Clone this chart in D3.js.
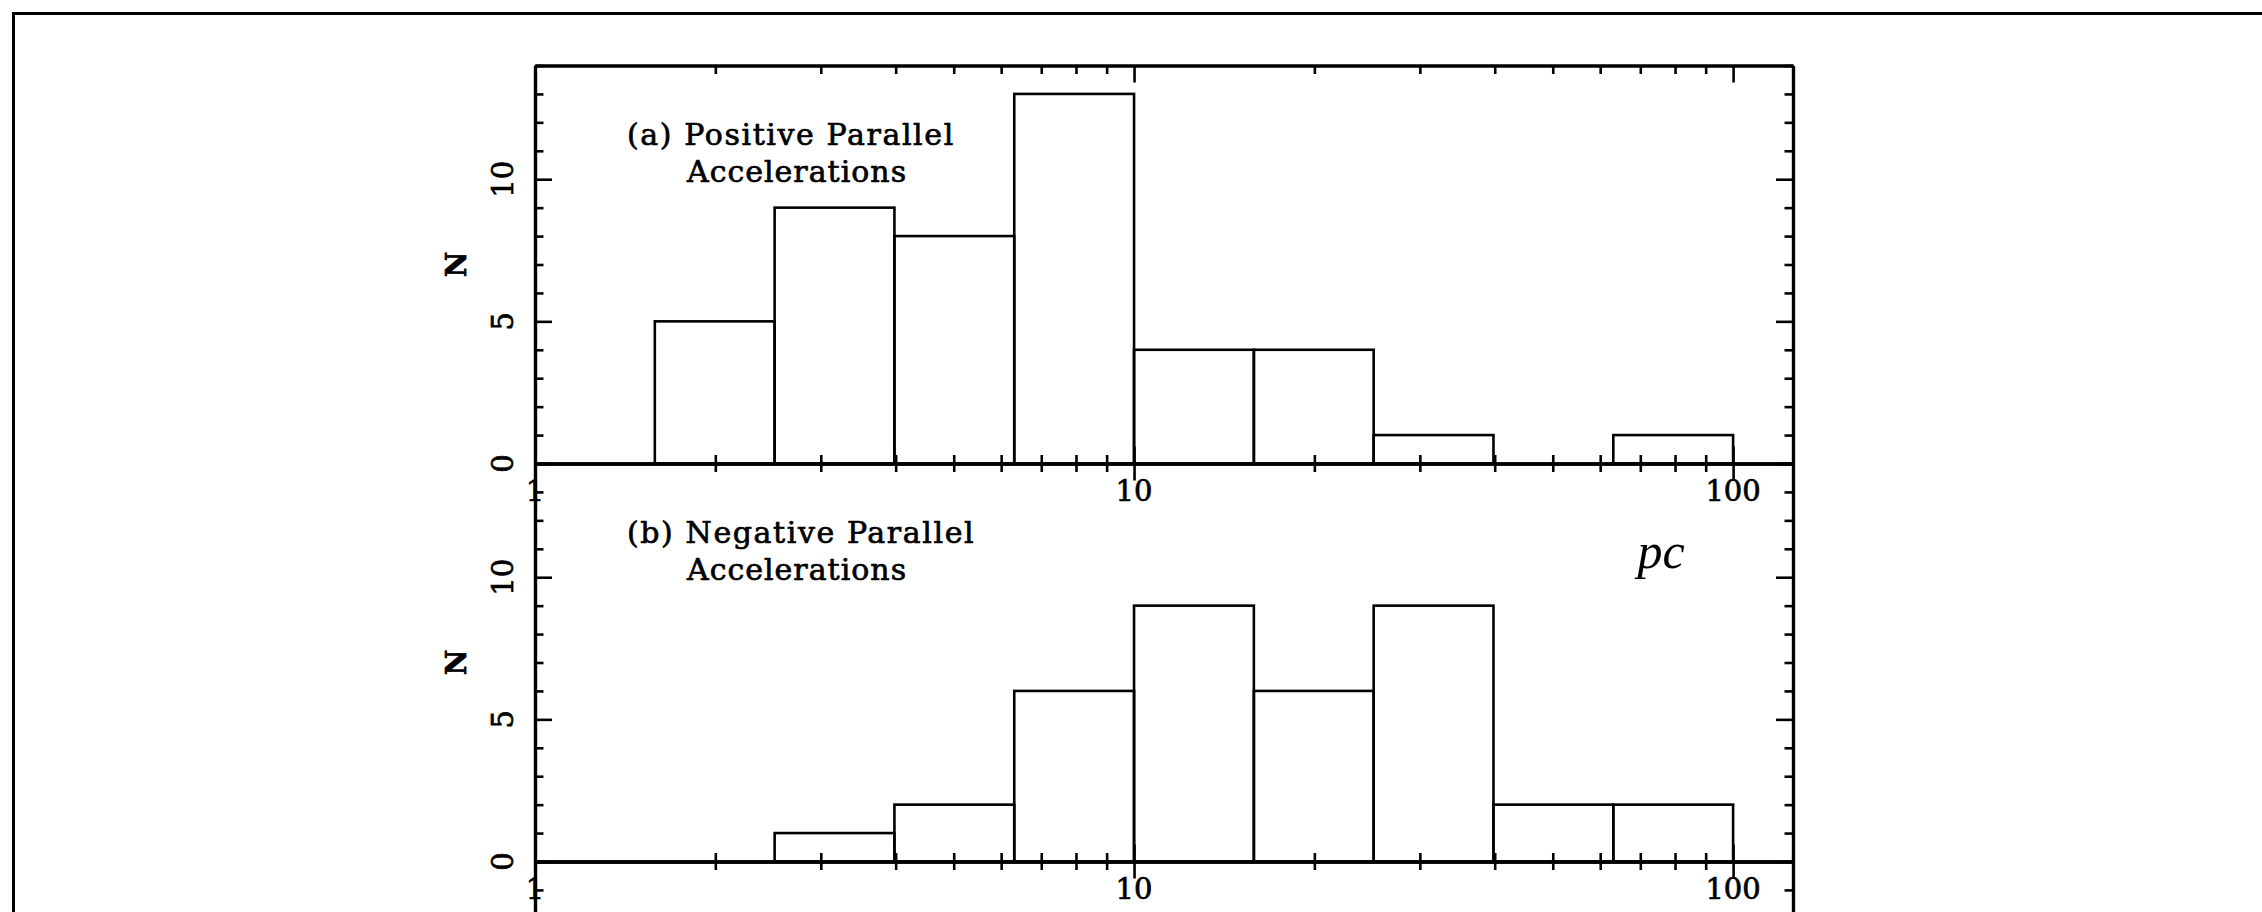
<!DOCTYPE html>
<html>
<head>
<meta charset="utf-8">
<script src="https://cdn.jsdelivr.net/npm/d3@7"></script>
<style>
  body { margin: 0; background: #fff; }
  svg { display: block; }
  .lbl { font-family: "DejaVu Serif", serif; fill: #000; stroke: #000; stroke-width: 0.7px; }
</style>
</head>
<body>
<div id="chart"></div>
<script>
// bin edges (log spaced, 0.2 dex)
const binEdges = [1.585, 2.512, 3.981, 6.310, 10, 15.85, 25.12, 39.81, 63.10, 100];
const posCounts = [5, 9, 8, 13, 4, 4, 1, 0, 1];
const negCounts = [0, 1, 2, 6, 9, 6, 9, 2, 2];
const xTickLabels = [1, 10, 100];
const yTickLabels = [0, 5, 10];
const panelTitles = [
    ["(a) Positive Parallel", "Accelerations"],
    ["(b) Negative Parallel", "Accelerations"],
];

const width = 2262, height = 912;
const left = 535, right = 1793;
const panelH = 398, top0 = 65.5;

let svg = d3.select("#chart").append("svg")
            .attr("width", width)
            .attr("height", height);

svg.append("rect").attr("width", width).attr("height", height).attr("fill", "#fff");

// outer frame (only top and left are in view)
svg.append("path")
   .attr("d", `M13.5,${height} L13.5,13.5 L${width},13.5`)
   .attr("fill", "none")
   .attr("stroke", "#000")
   .attr("stroke-width", 3);

const x = d3.scaleLog().domain([1, Math.pow(10, 2.1)]).range([left, right]);

function styleAxis(g) {
    g.select(".domain").attr("stroke-width", 3.2);
    g.selectAll(".tick line").attr("stroke-width", 2.6);
    g.selectAll(".tick text").remove();
}

function drawPanel(i, counts, titles, showText) {
    const top = top0 + i * panelH;
    const bottom = top + panelH;
    const y = d3.scaleLinear().domain([0, 14]).range([bottom, top]);
    const g = svg.append("g");

    // bars
    const bins = counts.map((c, k) => ({ x0: binEdges[k], x1: binEdges[k + 1], n: c }))
                       .filter(d => d.n > 0);
    g.selectAll("rect.bar")
     .data(bins)
     .enter()
     .append("rect")
     .attr("class", "bar")
     .attr("x", d => x(d.x0))
     .attr("width", d => x(d.x1) - x(d.x0))
     .attr("y", d => y(d.n))
     .attr("height", d => y(0) - y(d.n))
     .attr("fill", "none")
     .attr("stroke", "#000")
     .attr("stroke-width", 2.6);

    const minorX = x.ticks().filter(v => !xTickLabels.includes(v));
    const minorY = d3.range(0, 15).filter(v => v % 5 !== 0);
    const majorY = [0, 5, 10];

    // bottom axis (ticks point up)
    g.append("g").attr("transform", `translate(0,${bottom})`)
     .call(d3.axisTop(x).tickValues(minorX).tickSize(8.5).tickSizeOuter(0)).call(styleAxis);
    g.append("g").attr("transform", `translate(0,${bottom})`)
     .call(d3.axisTop(x).tickValues(xTickLabels).tickSize(17).tickSizeOuter(0)).call(styleAxis);
    // top axis (ticks point down)
    g.append("g").attr("transform", `translate(0,${top})`)
     .call(d3.axisBottom(x).tickValues(minorX).tickSize(8.5).tickSizeOuter(0)).call(styleAxis);
    g.append("g").attr("transform", `translate(0,${top})`)
     .call(d3.axisBottom(x).tickValues(xTickLabels).tickSize(17).tickSizeOuter(0)).call(styleAxis);
    // left axis
    g.append("g").attr("transform", `translate(${left},0)`)
     .call(d3.axisRight(y).tickValues(minorY).tickSize(8.5).tickSizeOuter(0)).call(styleAxis);
    g.append("g").attr("transform", `translate(${left},0)`)
     .call(d3.axisRight(y).tickValues(majorY).tickSize(17).tickSizeOuter(0)).call(styleAxis);
    // right axis
    g.append("g").attr("transform", `translate(${right},0)`)
     .call(d3.axisLeft(y).tickValues(minorY).tickSize(8.5).tickSizeOuter(0)).call(styleAxis);
    g.append("g").attr("transform", `translate(${right},0)`)
     .call(d3.axisLeft(y).tickValues(majorY).tickSize(17).tickSizeOuter(0)).call(styleAxis);

    if (!showText) return;

    // x tick labels
    g.selectAll("text.xl")
     .data(xTickLabels)
     .enter()
     .append("text")
     .attr("class", "lbl")
     .attr("x", d => x(d))
     .attr("y", bottom + 37.5)
     .attr("text-anchor", "middle")
     .attr("font-size", 29)
     .text(d => d);

    // y tick labels (rotated)
    g.selectAll("text.yl")
     .data(yTickLabels)
     .enter()
     .append("text")
     .attr("class", "lbl")
     .attr("transform", d => `translate(503,${y(d)}) rotate(-90)`)
     .attr("text-anchor", "middle")
     .attr("dy", "0.36em")
     .attr("font-size", 29)
     .text(d => d);

    g.append("text")
     .attr("class", "lbl")
     .attr("transform", `translate(456,${(top + bottom) / 2}) rotate(-90)`)
     .attr("text-anchor", "middle")
     .attr("dy", "0.36em")
     .attr("font-size", 28)
     .attr("font-weight", "bold")
     .text("N");

    // panel title
    g.append("text")
     .attr("class", "lbl")
     .attr("x", 627)
     .attr("y", top + 79.5)
     .attr("font-size", 30)
     .attr("letter-spacing", "1.6px")
     .text(titles[0]);
    g.append("text")
     .attr("class", "lbl")
     .attr("x", 687)
     .attr("y", top + 116)
     .attr("font-size", 30)
     .attr("letter-spacing", "1px")
     .text(titles[1]);
}

drawPanel(0, posCounts, panelTitles[0], true);
drawPanel(1, negCounts, panelTitles[1], true);
// third panel, only its top edge is in view
drawPanel(2, [], null, false);

svg.append("text")
   .attr("x", 1661)
   .attr("y", 568)
   .attr("text-anchor", "middle")
   .attr("font-family", "Liberation Serif, serif")
   .attr("font-style", "italic")
   .attr("font-size", 50)
   .text("pc");
</script>
</body>
</html>
